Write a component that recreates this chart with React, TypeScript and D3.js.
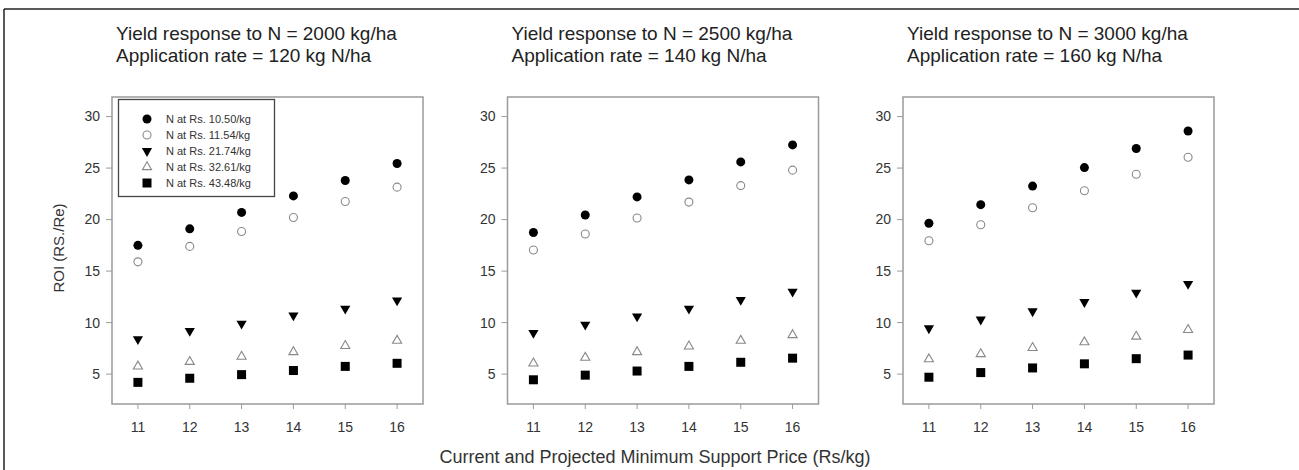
import * as d3 from 'd3'

const prices = [11, 12, 13, 14, 15, 16]
const yTicks = [5, 10, 15, 20, 25, 30]

const titles = [
  ['Yield response to N = 2000 kg/ha', 'Application rate = 120 kg N/ha'],
  ['Yield response to N = 2500 kg/ha', 'Application rate = 140 kg N/ha'],
  ['Yield response to N = 3000 kg/ha', 'Application rate = 160 kg N/ha'],
]

const seriesNames = [
  'N at Rs. 10.50/kg',
  'N at Rs. 11.54/kg',
  'N at Rs. 21.74/kg',
  'N at Rs. 32.61/kg',
  'N at Rs. 43.48/kg',
]

// ROI per panel, one row per N price
const panel1 = [
  [17.5, 19.1, 20.7, 22.3, 23.8, 25.45],
  [15.9, 17.4, 18.85, 20.2, 21.75, 23.15],
  [8.4, 9.2, 9.9, 10.7, 11.35, 12.15],
  [5.75, 6.2, 6.7, 7.15, 7.75, 8.25],
  [4.2, 4.6, 4.95, 5.35, 5.75, 6.05],
]
const panel2 = [
  [18.75, 20.45, 22.2, 23.85, 25.6, 27.25],
  [17.05, 18.6, 20.15, 21.7, 23.3, 24.8],
  [9.0, 9.8, 10.6, 11.35, 12.2, 13.0],
  [6.05, 6.6, 7.15, 7.7, 8.25, 8.8],
  [4.45, 4.9, 5.3, 5.75, 6.15, 6.55],
]
const panel3 = [
  [19.65, 21.45, 23.25, 25.05, 26.9, 28.6],
  [17.95, 19.5, 21.15, 22.8, 24.4, 26.05],
  [9.45, 10.3, 11.1, 12.0, 12.9, 13.75],
  [6.45, 6.95, 7.55, 8.1, 8.65, 9.3],
  [4.7, 5.15, 5.6, 6.0, 6.5, 6.85],
]
const panels = [panel1, panel2, panel3]

const W = 1299
const H = 470
const panelLeft = [112, 507.5, 903]
const panelW = 311
const top = 97
const bottom = 404
const font = 'Arial, "Liberation Sans", sans-serif'
const frameColor = '#9a9a9a'
const textColor = '#333'

function Marker({ kind, x, y }: { kind: number; x: number; y: number }) {
  if (kind === 0) return <circle cx={x} cy={y} r={4.5} fill="#000" />
  if (kind === 1)
    return <circle cx={x} cy={y} r={4} fill="none" stroke="#888" strokeWidth={1.1} />
  if (kind === 2)
    return (
      <path
        d={d3.symbol(d3.symbolTriangle, 45)() ?? ''}
        transform={`translate(${x},${y}) rotate(180)`}
        fill="#000"
      />
    )
  if (kind === 3)
    return (
      <path
        d={d3.symbol(d3.symbolTriangle, 36)() ?? ''}
        transform={`translate(${x},${y})`}
        fill="none"
        stroke="#888"
        strokeWidth={1.1}
      />
    )
  return <rect x={x - 4.5} y={y - 4.5} width={9} height={9} fill="#000" />
}

function Panel({ idx }: { idx: number }) {
  const left = panelLeft[idx]
  const x = d3.scaleLinear().domain([10.5, 16.5]).range([left, left + panelW])
  const y = d3.scaleLinear().domain([2.1, 31.9]).range([bottom, top])
  const data = panels[idx]
  return (
    <g>
      <text x={left + 4} y={40} fontSize={19} fill="#222" fontFamily={font}>
        {titles[idx][0]}
      </text>
      <text x={left + 4} y={62} fontSize={19} fill="#222" fontFamily={font}>
        {titles[idx][1]}
      </text>
      <rect
        x={left}
        y={top}
        width={panelW}
        height={bottom - top}
        fill="none"
        stroke={frameColor}
        strokeWidth={1.5}
      />
      {yTicks.map(t => (
        <g key={t}>
          <line x1={left - 6} x2={left} y1={y(t)} y2={y(t)} stroke={frameColor} />
          <text
            x={left - 12}
            y={y(t)}
            dy="0.35em"
            textAnchor="end"
            fontSize={14}
            fill={textColor}
            fontFamily={font}
          >
            {t}
          </text>
        </g>
      ))}
      {prices.map(p => (
        <g key={p}>
          <line x1={x(p)} x2={x(p)} y1={bottom} y2={bottom + 5} stroke={frameColor} />
          <text
            x={x(p)}
            y={bottom + 28}
            textAnchor="middle"
            fontSize={14}
            fill={textColor}
            fontFamily={font}
          >
            {p}
          </text>
        </g>
      ))}
      {data.map((row, k) =>
        row.map((v, i) => <Marker key={`${k}-${i}`} kind={k} x={x(prices[i])} y={y(v)} />)
      )}
      {idx === 0 && (
        <g>
          <rect
            x={118.5}
            y={99.5}
            width={156}
            height={97}
            fill="#fff"
            stroke="#444"
            strokeWidth={1.3}
          />
          {seriesNames.map((s, k) => (
            <g key={s}>
              <Marker kind={k} x={147} y={119 + k * 16} />
              <text
                x={166}
                y={119 + k * 16}
                dy="0.35em"
                fontSize={11}
                fill={textColor}
                fontFamily={font}
              >
                {s}
              </text>
            </g>
          ))}
        </g>
      )}
    </g>
  )
}

export default function App() {
  return (
    <svg
      width={W}
      height={H}
      style={{ position: 'absolute', left: 0, top: 0, background: '#fff' }}
    >
      <line x1={4} x2={4} y1={9} y2={H} stroke="#222" strokeWidth={1.5} />
      <line x1={4} x2={W} y1={9} y2={9} stroke="#222" strokeWidth={1.5} />
      {[0, 1, 2].map(i => (
        <Panel key={i} idx={i} />
      ))}
      <text
        x={59}
        y={248}
        transform="rotate(-90 59 248)"
        textAnchor="middle"
        dy="0.35em"
        fontSize={15}
        fill={textColor}
        fontFamily={font}
      >
        ROI (RS./Re)
      </text>
      <text
        x={655}
        y={463}
        textAnchor="middle"
        fontSize={18}
        fill={textColor}
        fontFamily={font}
      >
        Current and Projected Minimum Support Price (Rs/kg)
      </text>
    </svg>
  )
}
